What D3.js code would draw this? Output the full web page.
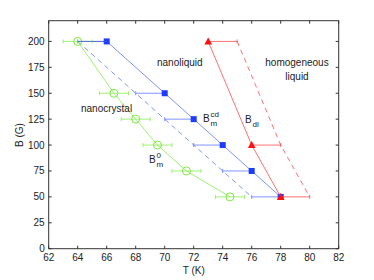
<!DOCTYPE html>
<html>
<head>
<meta charset="utf-8">
<script src="https://cdn.jsdelivr.net/npm/d3@7"></script>
<style>
  body { margin: 0; background: #fff; }
  text { font-family: "Liberation Sans", Arial, sans-serif; fill: #222; }
</style>
</head>
<body>
<svg id="canvas" width="374" height="280"></svg>
<script>
// B_m^cd (blue squares), error bar to the left
const cdT = [66, 70, 72, 74, 76, 78];
const cdB = [200, 150, 125, 100, 75, 50];
const cdLow = [64, 68, 70, 72, 74, 76];

// B_m^0 (green circles), symmetric error
const m0T = [64, 66.5, 68, 69.5, 71.5, 74.5];
const m0B = [200, 150, 125, 100, 75, 50];
const m0Err = [1, 1, 1, 1, 1, 1];

// B_dl (red triangles), error bar to the right
const dlT = [73, 76, 78];
const dlB = [200, 100, 50];
const dlHigh = [75, 78, 80];

const xTicks = [62, 64, 66, 68, 70, 72, 74, 76, 78, 80, 82];
const yTicks = [0, 25, 50, 75, 100, 125, 150, 175, 200];

const svg = d3.select("#canvas");
const pL = 48.7, pR = 338.7, pT = 20.7, pB = 248.7;

const x = d3.scaleLinear().domain([62, 82]).range([pL, pR]);
const y = d3.scaleLinear().domain([0, 220]).range([pB, pT]);

const blueLine = "#6077ff", blueMark = "#1e3cff";
const greenLine = "#86ee50", greenMark = "#7ee845";
const redLine = "#ff4d4d", redMark = "#ff1010";
const lw = 0.8;

// axes box with inward ticks
const axisG = svg.append("g").attr("font-size", 10);
axisG.append("rect")
  .attr("x", pL).attr("y", pT)
  .attr("width", pR - pL).attr("height", pB - pT)
  .attr("fill", "none").attr("stroke", "#333").attr("stroke-width", 1);

xTicks.forEach(t => {
  axisG.append("line").attr("x1", x(t)).attr("x2", x(t))
    .attr("y1", pB).attr("y2", pB - 3).attr("stroke", "#333");
  axisG.append("line").attr("x1", x(t)).attr("x2", x(t))
    .attr("y1", pT).attr("y2", pT + 3).attr("stroke", "#333");
  axisG.append("text").attr("x", x(t)).attr("y", pB + 12)
    .attr("text-anchor", "middle").text(t);
});
yTicks.forEach(t => {
  axisG.append("line").attr("x1", pL).attr("x2", pL + 3)
    .attr("y1", y(t)).attr("y2", y(t)).attr("stroke", "#333");
  axisG.append("line").attr("x1", pR).attr("x2", pR - 3)
    .attr("y1", y(t)).attr("y2", y(t)).attr("stroke", "#333");
  axisG.append("text").attr("x", pL - 4).attr("y", y(t) + 3.5)
    .attr("text-anchor", "end").text(t);
});
axisG.append("text").attr("x", (pL + pR) / 2).attr("y", 274)
  .attr("text-anchor", "middle").text("T (K)");
axisG.append("text")
  .attr("transform", `translate(23,135) rotate(-90)`)
  .attr("text-anchor", "middle").text("B (G)");

const line = d3.line();

// blue
const cd = cdT.map((t, i) => ({ t, b: cdB[i], lo: cdLow[i] }));
svg.append("path").datum(cd)
  .attr("d", line.x(d => x(d.lo)).y(d => y(d.b)))
  .attr("fill", "none").attr("stroke", blueLine).attr("stroke-width", lw)
  .attr("stroke-dasharray", "5,4");
svg.append("path").datum(cd)
  .attr("d", line.x(d => x(d.t)).y(d => y(d.b)))
  .attr("fill", "none").attr("stroke", blueLine).attr("stroke-width", lw);
cd.forEach(d => {
  svg.append("line").attr("x1", x(d.lo)).attr("x2", x(d.t))
    .attr("y1", y(d.b)).attr("y2", y(d.b)).attr("stroke", blueLine).attr("stroke-width", lw);
  svg.append("line").attr("x1", x(d.lo)).attr("x2", x(d.lo))
    .attr("y1", y(d.b) - 2).attr("y2", y(d.b) + 2).attr("stroke", blueLine).attr("stroke-width", lw);
});
svg.selectAll(".sq").data(cd).join("rect")
  .attr("x", d => x(d.t) - 3).attr("y", d => y(d.b) - 3)
  .attr("width", 6).attr("height", 6).attr("fill", blueMark);

// green
const m0 = m0T.map((t, i) => ({ t, b: m0B[i], e: m0Err[i] }));
svg.append("path").datum(m0)
  .attr("d", line.x(d => x(d.t)).y(d => y(d.b)))
  .attr("fill", "none").attr("stroke", greenLine).attr("stroke-width", lw);
m0.forEach(d => {
  svg.append("line").attr("x1", x(d.t - d.e)).attr("x2", x(d.t + d.e))
    .attr("y1", y(d.b)).attr("y2", y(d.b)).attr("stroke", greenLine).attr("stroke-width", lw);
  [d.t - d.e, d.t + d.e].forEach(v => {
    svg.append("line").attr("x1", x(v)).attr("x2", x(v))
      .attr("y1", y(d.b) - 2).attr("y2", y(d.b) + 2).attr("stroke", greenLine).attr("stroke-width", lw);
  });
});
svg.selectAll(".ci").data(m0).join("circle")
  .attr("cx", d => x(d.t)).attr("cy", d => y(d.b)).attr("r", 4)
  .attr("fill", "none").attr("stroke", greenMark).attr("stroke-width", 1);

// blue top error bar drawn over the green one
svg.append("line").attr("x1", x(cd[0].lo)).attr("x2", x(cd[0].t))
  .attr("y1", y(cd[0].b)).attr("y2", y(cd[0].b)).attr("stroke", "#4a5fe0").attr("stroke-width", lw);

// red
const dl = dlT.map((t, i) => ({ t, b: dlB[i], hi: dlHigh[i] }));
svg.append("path").datum(dl)
  .attr("d", line.x(d => x(d.hi)).y(d => y(d.b)))
  .attr("fill", "none").attr("stroke", redLine).attr("stroke-width", lw)
  .attr("stroke-dasharray", "5,4");
svg.append("path").datum(dl)
  .attr("d", line.x(d => x(d.t)).y(d => y(d.b)))
  .attr("fill", "none").attr("stroke", redLine).attr("stroke-width", lw);
dl.forEach(d => {
  svg.append("line").attr("x1", x(d.t)).attr("x2", x(d.hi))
    .attr("y1", y(d.b)).attr("y2", y(d.b)).attr("stroke", redLine).attr("stroke-width", lw);
  svg.append("line").attr("x1", x(d.hi)).attr("x2", x(d.hi))
    .attr("y1", y(d.b) - 2).attr("y2", y(d.b) + 2).attr("stroke", redLine).attr("stroke-width", lw);
});
svg.selectAll(".tri").data(dl).join("path")
  .attr("d", d => `M${x(d.t)},${y(d.b) - 4}L${x(d.t) + 3.8},${y(d.b) + 3}L${x(d.t) - 3.8},${y(d.b) + 3}Z`)
  .attr("fill", redMark);

// labels
const lab = svg.append("g").attr("font-size", 10);
lab.append("text").attr("x", 157).attr("y", 66).text("nanoliquid");
lab.append("text").attr("x", 297).attr("y", 66).attr("text-anchor", "middle").text("homogeneous");
lab.append("text").attr("x", 297).attr("y", 80).attr("text-anchor", "middle").text("liquid");
lab.append("text").attr("x", 81).attr("y", 112).text("nanocrystal");

function sym(xp, yp, sup, sub) {
  const g = lab.append("g");
  g.append("text").attr("x", xp).attr("y", yp).text("B");
  if (sup) g.append("text").attr("x", xp + 7.5).attr("y", yp - 5).attr("font-size", 8).text(sup);
  if (sub) g.append("text").attr("x", xp + 7.5).attr("y", yp + 4).attr("font-size", 8).text(sub);
}
sym(203, 122, "cd", "m");
sym(245, 123, null, "dl");
sym(149, 163, "0", "m");
</script>
</body>
</html>
